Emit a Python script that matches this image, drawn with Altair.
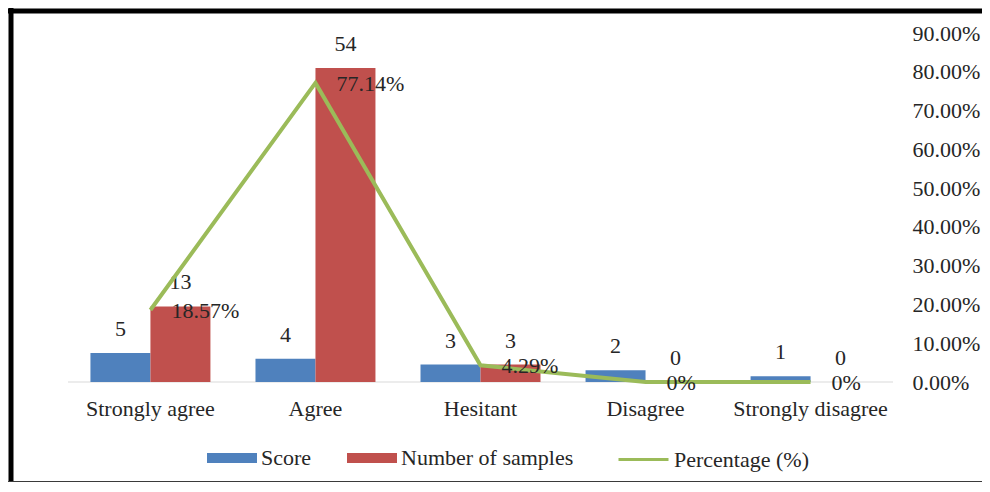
import altair as alt
import pandas as pd

categories = ["Strongly agree", "Agree", "Hesitant", "Disagree", "Strongly disagree"]
score = [5, 4, 3, 2, 1]
samples = [13, 54, 3, 0, 0]
percentage = [0.1857, 0.7714, 0.0429, 0.0, 0.0]
pct_labels = ["18.57%", "77.14%", "4.29%", "0%", "0%"]

bar_series = ["Score", "Number of samples"]
bar_colors = ["#4F81BD", "#C0504D"]
line_series = ["Percentage (%)"]
line_colors = ["#9BBB59"]
left_ticks = [0, 10, 20, 30, 40, 50, 60]
right_ticks = [0, 0.1, 0.2, 0.3, 0.4, 0.5, 0.6, 0.7, 0.8, 0.9]

FONT = "Liberation Serif, Times New Roman, serif"
TXT = "#262626"

bars_df = pd.DataFrame({
    "category": categories * 2,
    "series": ["Score"] * 5 + ["Number of samples"] * 5,
    "value": score + samples,
})
pct_df = pd.DataFrame({"category": categories, "pct": percentage, "label": pct_labels,
                       "series": line_series * 5})

W, H = 825, 349
x_axis = alt.Axis(title=None, labelAngle=0, ticks=False, domain=False, grid=False,
                  labelFont=FONT, labelFontSize=22, labelColor=TXT, labelPadding=16)
x_enc = alt.X("category:N", sort=categories,
              scale=alt.Scale(paddingInner=0.273, paddingOuter=0.136), axis=x_axis)
xo = alt.XOffset("series:N", sort=bar_series, scale=alt.Scale(paddingInner=0, paddingOuter=0))

y1 = alt.Y("value:Q", scale=alt.Scale(domain=[0, 60], nice=False),
           axis=alt.Axis(title=None, values=left_ticks, grid=False, ticks=False,
                         domain=False, labelFont=FONT, labelFontSize=22, labelColor=TXT,
                         labelPadding=18, labelOverlap=False))
y2 = alt.Y("pct:Q", scale=alt.Scale(domain=[0, 0.9], nice=False),
           axis=alt.Axis(title=None, orient="right", format=".2%", values=right_ticks,
                         grid=False, ticks=False, domain=False, labelFont=FONT, labelFontSize=22,
                         labelColor=TXT, labelPadding=19, labelAlign="left", labelOverlap=False))

rect_path = "M-1,-0.2L1,-0.2L1,0.2L-1,0.2Z"
bar_legend = alt.Legend(
    title=None, orient="none", legendX=139, legendY=400, direction="horizontal",
    symbolType=rect_path, symbolSize=2500, labelFont=FONT, labelFontSize=22,
    labelColor=TXT, labelOffset=4, columnPadding=35, symbolStrokeWidth=0, symbolOpacity=1,
    labelLimit=400,
)
line_legend = alt.Legend(
    title=None, orient="none", legendX=549, legendY=400, direction="horizontal",
    symbolType="stroke", symbolSize=2500, symbolStrokeWidth=3, labelFont=FONT, labelFontSize=22,
    labelColor=TXT, labelOffset=4, labelLimit=400,
)

base_bars = alt.Chart(bars_df).encode(x=x_enc, xOffset=xo, y=y1)
baseline = alt.Chart(pd.DataFrame({"v": [0]})).mark_rule(color="#D9D9D9", strokeWidth=1).encode(
    y=alt.Y("v:Q", scale=alt.Scale(domain=[0, 60], nice=False), axis=None),
    x=alt.value(0), x2=alt.value(W))
bars = base_bars.mark_bar().encode(
    color=alt.Color("series:N", scale=alt.Scale(domain=bar_series, range=bar_colors),
                    legend=bar_legend))
bar_text = base_bars.mark_text(font=FONT, fontSize=22, color=TXT, baseline="middle", dy=-24).encode(
    text="value:Q")

base_line = alt.Chart(pct_df).encode(x=x_enc, y=y2)
line = base_line.mark_line(strokeWidth=4).encode(
    stroke=alt.Stroke("series:N", scale=alt.Scale(domain=line_series, range=line_colors),
                      legend=line_legend))
line_text = base_line.mark_text(font=FONT, fontSize=22, color=TXT, align="left", baseline="middle",
                                dx=21, dy=1).encode(text="label:N")

one = pd.DataFrame({"a": [0]})
frame_top = alt.Chart(one).mark_rule(color="black", strokeWidth=5).encode(
    x=alt.value(-60), x2=alt.value(914), y=alt.value(-22))
frame_left = alt.Chart(one).mark_rule(color="black", strokeWidth=5).encode(
    x=alt.value(-57), y=alt.value(-25), y2=alt.value(451))
frame_bottom = alt.Chart(one).mark_rule(color="#3a3a3a", strokeWidth=2).encode(
    x=alt.value(-60), x2=alt.value(914), y=alt.value(449))

left_layer = alt.layer(baseline, bars, bar_text)
right_layer = alt.layer(line, line_text)

chart = alt.layer(left_layer, right_layer, frame_top, frame_left, frame_bottom).resolve_scale(
    y="independent"
).properties(
    width=W, height=H, autosize=alt.AutoSizeParams(type="none"),
    padding={"left": 60, "top": 25, "right": 89, "bottom": 100},
    background="white",
).configure(
    view=alt.ViewConfig(stroke=None, strokeWidth=0, strokeOpacity=0),
    axis=alt.AxisConfig(domain=False, grid=False),
)

chart.save("out.html", embed_options={"renderer": "svg", "actions": False})
